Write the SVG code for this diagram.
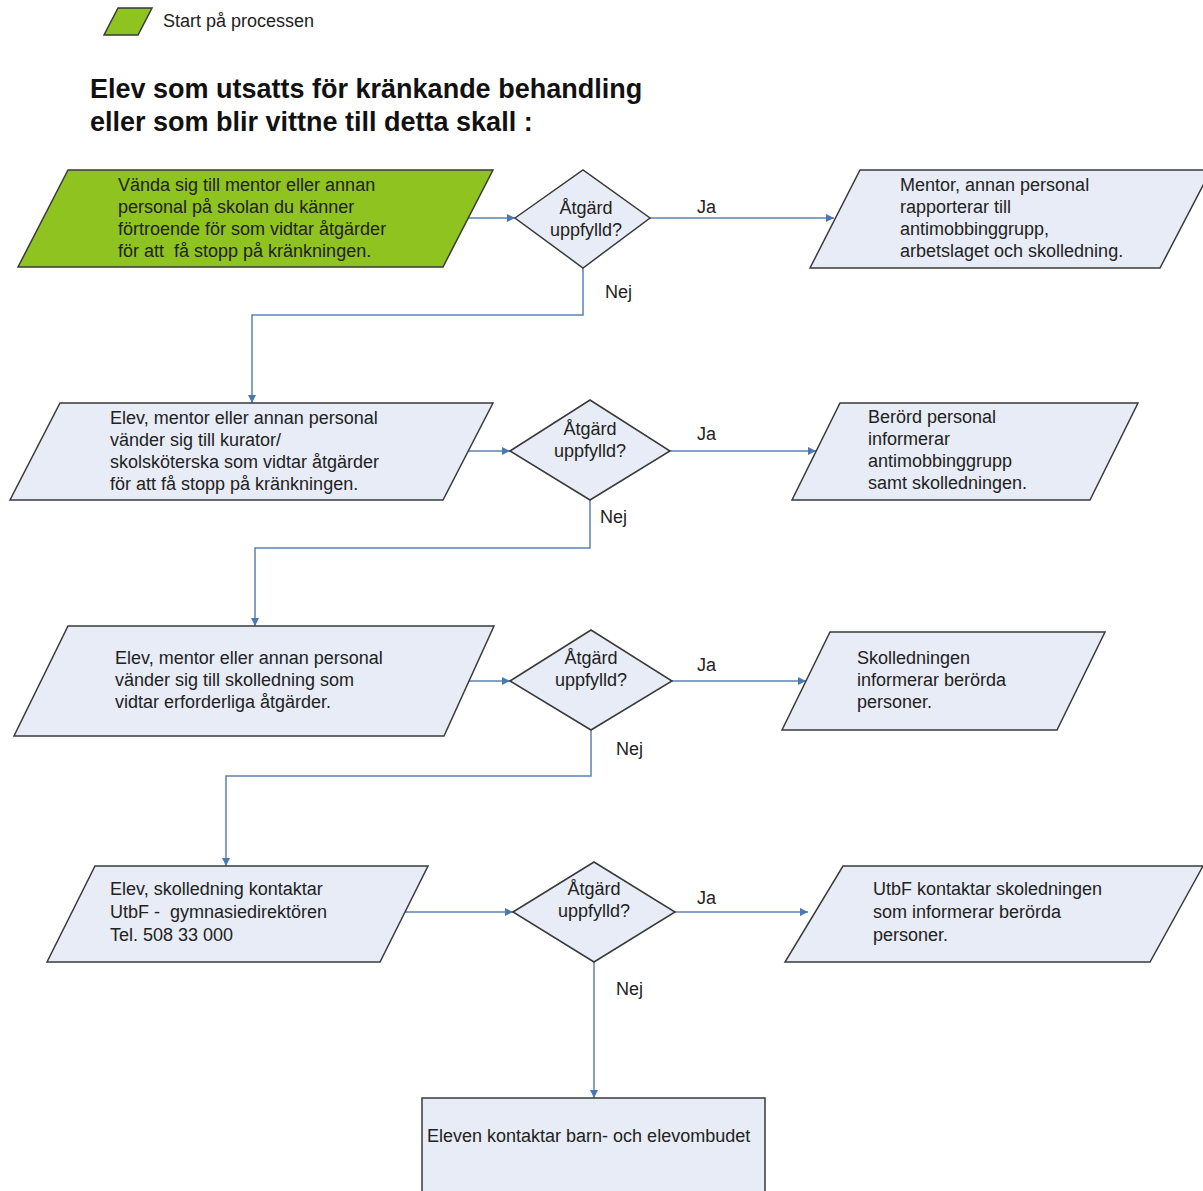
<svg xmlns="http://www.w3.org/2000/svg" width="1203" height="1191" viewBox="0 0 1203 1191">
<defs>
<marker id="arr" viewBox="0 0 10 10" refX="10" refY="5" markerWidth="8" markerHeight="8" markerUnits="userSpaceOnUse" orient="auto">
<path d="M0,0 L10,5 L0,10 z" fill="#4a78b0"/>
</marker>
<style>
.t{font-family:"Liberation Sans",Arial,sans-serif;font-size:18px;fill:#222}
.c{text-anchor:middle}
.h{font-family:"Liberation Sans",Arial,sans-serif;font-size:27px;font-weight:bold;fill:#111}
.g{fill:#8fc31f;stroke:#3a3a3a;stroke-width:1.5}
.b{fill:#e7ecf6;stroke:#3a3a3a;stroke-width:1.5}
.k{fill:none;stroke:#5b82b5;stroke-width:1.5}
</style>
</defs>
<rect width="1203" height="1191" fill="#fff"/>
<g id="legend">
<polygon class="g" points="118,8 152,8 138,35 104,35"/>
<text class="t" x="163" y="27">Start på processen</text>
</g>
<g id="title">
<text class="h" x="90" y="98">Elev som utsatts för kränkande behandling</text>
<text class="h" x="90" y="131">eller som blir vittne till detta skall :</text>
</g>
<g id="connectors">
<line class="k" x1="468" y1="218" x2="515" y2="218" marker-end="url(#arr)"/>
<line class="k" x1="650" y1="218" x2="834" y2="218" marker-end="url(#arr)"/>
<polyline class="k" points="583,268 583,315 252,315 252,403" marker-end="url(#arr)"/>
<line class="k" x1="468" y1="451" x2="510" y2="451" marker-end="url(#arr)"/>
<line class="k" x1="670" y1="451" x2="816" y2="451" marker-end="url(#arr)"/>
<polyline class="k" points="590,500 590,548 255,548 255,626" marker-end="url(#arr)"/>
<line class="k" x1="468" y1="681" x2="510" y2="681" marker-end="url(#arr)"/>
<line class="k" x1="672" y1="681" x2="806" y2="681" marker-end="url(#arr)"/>
<polyline class="k" points="591,730 591,776 226,776 226,866" marker-end="url(#arr)"/>
<line class="k" x1="405" y1="912" x2="513" y2="912" marker-end="url(#arr)"/>
<line class="k" x1="675" y1="912" x2="808" y2="912" marker-end="url(#arr)"/>
<line class="k" x1="594" y1="962" x2="594" y2="1098" marker-end="url(#arr)"/>
<text class="t" x="697" y="213">Ja</text>
<text class="t" x="605" y="298">Nej</text>
<text class="t" x="697" y="440">Ja</text>
<text class="t" x="600" y="523">Nej</text>
<text class="t" x="697" y="671">Ja</text>
<text class="t" x="616" y="755">Nej</text>
<text class="t" x="697" y="904">Ja</text>
<text class="t" x="616" y="995">Nej</text>
</g>
<g id="n1">
<polygon class="g" points="68,170 493,170 443,267 18,267"/>
<text class="t" x="118" y="191">Vända sig till mentor eller annan</text>
<text class="t" x="118" y="213">personal på skolan du känner</text>
<text class="t" x="118" y="235">förtroende för som vidtar åtgärder</text>
<text class="t" x="118" y="257" xml:space="preserve">för att  få stopp på kränkningen.</text>
</g>
<g id="d1">
<polygon class="b" points="515,218 583,170 650,218 583,268"/>
<text class="t c" x="586" y="214">Åtgärd</text>
<text class="t c" x="586" y="236">uppfylld?</text>
</g>
<g id="r1">
<polygon class="b" points="860,170 1211,170 1160,268 810,268"/>
<text class="t" x="900" y="191">Mentor, annan personal</text>
<text class="t" x="900" y="213">rapporterar till</text>
<text class="t" x="900" y="235">antimobbinggrupp,</text>
<text class="t" x="900" y="257">arbetslaget och skolledning.</text>
</g>
<g id="n2">
<polygon class="b" points="60,403 493,403 443,500 10,500"/>
<text class="t" x="110" y="424">Elev, mentor eller annan personal</text>
<text class="t" x="110" y="446">vänder sig till kurator/</text>
<text class="t" x="110" y="468">skolsköterska som vidtar åtgärder</text>
<text class="t" x="110" y="490">för att få stopp på kränkningen.</text>
</g>
<g id="d2">
<polygon class="b" points="510,451 590,400 670,451 590,500"/>
<text class="t c" x="590" y="435">Åtgärd</text>
<text class="t c" x="590" y="457">uppfylld?</text>
</g>
<g id="r2">
<polygon class="b" points="840,403 1138,403 1090,500 792,500"/>
<text class="t" x="868" y="423">Berörd personal</text>
<text class="t" x="868" y="445">informerar</text>
<text class="t" x="868" y="467">antimobbinggrupp</text>
<text class="t" x="868" y="489">samt skolledningen.</text>
</g>
<g id="n3">
<polygon class="b" points="68,626 494,626 444,736 14,736"/>
<text class="t" x="115" y="664">Elev, mentor eller annan personal</text>
<text class="t" x="115" y="686">vänder sig till skolledning som</text>
<text class="t" x="115" y="708">vidtar erforderliga åtgärder.</text>
</g>
<g id="d3">
<polygon class="b" points="510,681 591,630 672,681 591,730"/>
<text class="t c" x="591" y="664">Åtgärd</text>
<text class="t c" x="591" y="686">uppfylld?</text>
</g>
<g id="r3">
<polygon class="b" points="830,632 1105,632 1057,730 782,730"/>
<text class="t" x="857" y="664">Skolledningen</text>
<text class="t" x="857" y="686">informerar berörda</text>
<text class="t" x="857" y="708">personer.</text>
</g>
<g id="n4">
<polygon class="b" points="95,866 428,866 380,962 47,962"/>
<text class="t" x="110" y="895">Elev, skolledning kontaktar</text>
<text class="t" x="110" y="918" xml:space="preserve">UtbF -  gymnasiedirektören</text>
<text class="t" x="110" y="941">Tel. 508 33 000</text>
</g>
<g id="d4">
<polygon class="b" points="513,912 594,862 675,912 594,962"/>
<text class="t c" x="594" y="895">Åtgärd</text>
<text class="t c" x="594" y="917">uppfylld?</text>
</g>
<g id="r4">
<polygon class="b" points="843,866 1203,866 1150,962 785,962"/>
<text class="t" x="873" y="895">UtbF kontaktar skoledningen</text>
<text class="t" x="873" y="918">som informerar berörda</text>
<text class="t" x="873" y="941">personer.</text>
</g>
<g id="end">
<rect class="b" x="422" y="1098" width="343" height="100"/>
<text class="t" x="427" y="1142">Eleven kontaktar barn- och elevombudet</text>
</g>
</svg>
